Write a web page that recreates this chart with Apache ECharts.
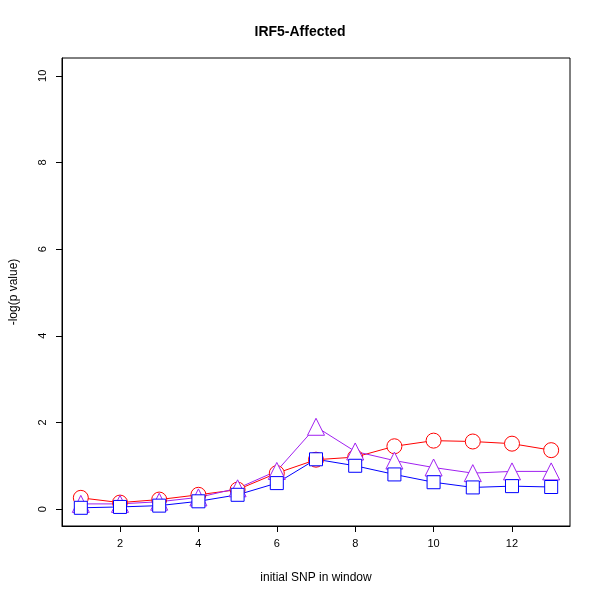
<!DOCTYPE html>
<html>
<head>
<meta charset="UTF-8">
<script src="https://cdn.jsdelivr.net/npm/echarts@6/dist/echarts.min.js"></script>
<style>html,body{margin:0;background:#fff}#chart{width:600px;height:600px}</style>
</head>
<body>
<div id="chart"></div>
<script>
var snps = [1,2,3,4,5,6,7,8,9,10,11,12,13];
var redVals = [0.26,0.15,0.22,0.33,0.45,0.83,1.14,1.2,1.45,1.58,1.56,1.51,1.36];
var purpleVals = [0.12,0.12,0.17,0.27,0.48,0.88,1.9,1.33,1.12,0.96,0.83,0.87,0.87];
var blueVals = [0.03,0.05,0.08,0.18,0.33,0.6,1.15,1.0,0.8,0.62,0.5,0.53,0.51];
var xTicks = [2,4,6,8,10,12];
var yTicks = [0,2,4,6,8,10];

function pairs(v){ return snps.map(function(x,i){ return [x, v[i]]; }); }
function ser(v, color, sym, size){
    return {type:'line', data:pairs(v), symbol:sym, symbolSize:size,
        lineStyle:{color:color, width:1}, itemStyle:{color:'#fff', borderColor:color, borderWidth:1},
        z: 2};
}
var font = 'Liberation Sans, Arial, sans-serif';
var chart = echarts.init(document.getElementById('chart'));
chart.setOption({
    animation:false,
    title:{text:'IRF5-Affected', left:'center', top:20, textStyle:{fontFamily:font, fontSize:14, fontWeight:'bold', color:'#000'}},
    grid:{left:59, right:30, top:58, bottom:74, show:true, borderColor:'#000', borderWidth:1},
    xAxis:{type:'value', min:0.52, max:13.48, name:'initial SNP in window', nameLocation:'middle', nameGap:46,
        nameTextStyle:{fontFamily:font, fontSize:12, color:'#000'},
        axisLine:{onZero:false, lineStyle:{color:'#000'}}, splitLine:{show:false},
        axisTick:{customValues:xTicks, length:6, lineStyle:{color:'#000'}},
        axisLabel:{customValues:xTicks, fontFamily:font, fontSize:11, color:'#000', margin:12}},
    yAxis:{type:'value', min:-0.39, max:10.41, name:'-log(p value)', nameLocation:'middle', nameGap:42,
        nameTextStyle:{fontFamily:font, fontSize:12, color:'#000'},
        axisLine:{onZero:false, lineStyle:{color:'#000'}}, splitLine:{show:false},
        axisTick:{customValues:yTicks, length:6, lineStyle:{color:'#000'}},
        axisLabel:{customValues:yTicks, rotate:90, fontFamily:font, fontSize:11, color:'#000', margin:14}},
    series:[
        ser(redVals,'#ff0000','circle',15),
        ser(purpleVals,'#a020f0','triangle',17),
        ser(blueVals,'#0000ff','rect',13)
    ]
});
</script>
</body>
</html>
